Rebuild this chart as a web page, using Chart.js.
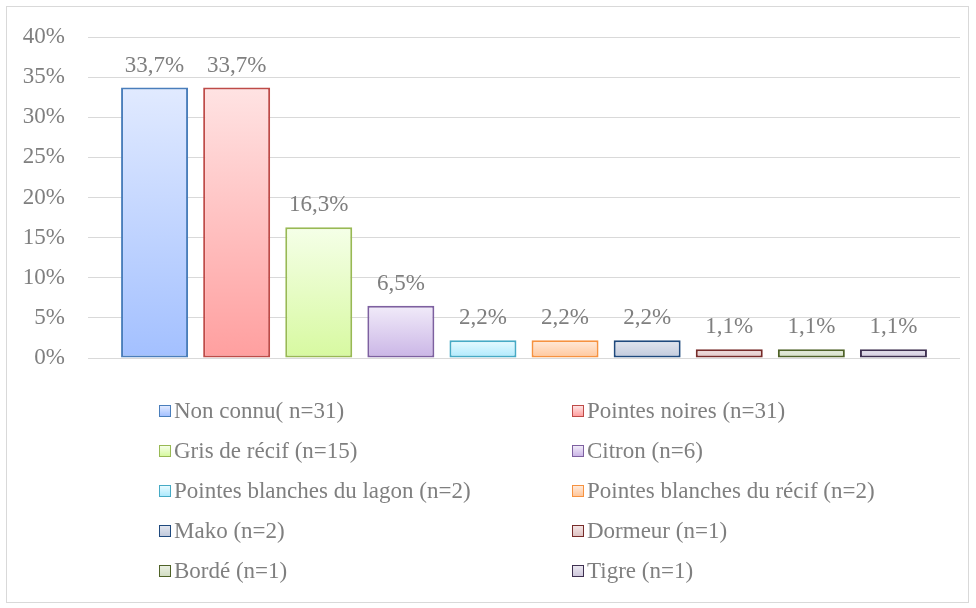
<!DOCTYPE html>
<html>
<head>
<meta charset="utf-8">
<script src="https://cdn.jsdelivr.net/npm/chart.js@4/dist/chart.umd.min.js"></script>
<style>
  body { margin: 0; background: #fff; }
  #wrap { position: relative; width: 976px; height: 608px; }
  #frame { position: absolute; left: 6px; top: 6px; width: 961px; height: 595px; border: 1px solid #d9d9d9; }
  #myChart { position: absolute; left: 0; top: 0; }
  #legend { position: absolute; left: 0; top: 0; font-size: 19px; color: #7f7f7f; }
  .item { position: absolute; display: flex; align-items: center; white-space: nowrap; }
  .box { width: 10px; height: 10px; border: 1px solid; margin-right: 3px; }
</style>
</head>
<body>
<div id="wrap">
  <div id="frame"></div>
  <canvas id="myChart" width="976" height="608"></canvas>
  <div id="legend"></div>
</div>
<script>
// Series names (one bar each)
const species = [
  'Non connu( n=31)', 'Pointes noires (n=31)', 'Gris de récif (n=15)', 'Citron (n=6)',
  'Pointes blanches du lagon (n=2)', 'Pointes blanches du récif (n=2)', 'Mako (n=2)',
  'Dormeur (n=1)', 'Bordé (n=1)', 'Tigre (n=1)'
];
// Percent of sharks
const percents = [33.7, 33.7, 16.3, 6.5, 2.2, 2.2, 2.2, 1.1, 1.1, 1.1];
// y axis ticks
const yTicks = [0, 5, 10, 15, 20, 25, 30, 35, 40];

// border, gradient top, gradient bottom
const lineColors = ['#4a7ebb', '#be4b48', '#98b954', '#7d60a0', '#46aac5', '#f69240', '#1f497d', '#772c2a', '#4f6228', '#3f3151'];
const topColors = ['#e1eaff', '#ffe3e3', '#f5ffe8', '#f1ebf9', '#e8fbff', '#ffeadb', '#e2e6ef', '#f5e4e4', '#eaf0e2', '#ebe8f1'];
const bottomColors = ['#a3c0ff', '#ff9f9f', '#d7f9a0', '#cab5e6', '#ade9fd', '#ffc69a', '#c0c9dc', '#ddc3c3', '#d2ddc3', '#cfc8dc'];

// pick the first serif face that is really installed
const probe = document.createElement('canvas').getContext('2d');
function hasFont(name) {
  const s = 'mmmmmwwwwlli,%0123';
  return ['monospace', 'sans-serif'].some(function(base) {
    probe.font = '40px ' + base;
    const w0 = probe.measureText(s).width;
    probe.font = '40px "' + name + '", ' + base;
    return probe.measureText(s).width !== w0;
  });
}
const serifName = ['Liberation Serif', 'Times New Roman', 'Tinos', 'Noto Serif', 'DejaVu Serif']
  .find(hasFont) || 'serif';
const fontFamily = '"' + serifName + '", serif';
// size so that "33,7%" is ~59px wide, as in the picture
probe.font = '100px ' + fontFamily;
const fontSize = Math.round(59 / probe.measureText('33,7%').width * 100 * 2) / 2;
document.getElementById('legend').style.fontFamily = fontFamily;
document.getElementById('legend').style.fontSize = fontSize + 'px';

function barGradient(i) {
  return function(context) {
    const chart = context.chart;
    if (!chart.chartArea || !chart.scales.y) return topColors[i];
    const y = chart.scales.y;
    const top = y.getPixelForValue(percents[i]);
    const bottom = y.getPixelForValue(0);
    const g = chart.ctx.createLinearGradient(0, top, 0, bottom);
    g.addColorStop(0, topColors[i]);
    g.addColorStop(1, bottomColors[i]);
    return g;
  };
}

const datasets = species.map(function(name, i) {
  return {
    label: name,
    data: [percents[i]],
    backgroundColor: barGradient(i),
    borderColor: lineColors[i],
    borderWidth: 2,
    borderSkipped: false,
    categoryPercentage: 0.9415,
    barPercentage: 0.816
  };
});

// value labels above the bars
const valueLabels = {
  id: 'valueLabels',
  afterDatasetsDraw(chart) {
    const ctx = chart.ctx;
    ctx.save();
    ctx.font = fontSize + 'px ' + fontFamily;
    ctx.fillStyle = '#7f7f7f';
    ctx.textAlign = 'center';
    ctx.textBaseline = 'alphabetic';
    chart.data.datasets.forEach(function(ds, i) {
      const bar = chart.getDatasetMeta(i).data[0];
      const txt = ds.data[0].toFixed(1).replace('.', ',') + '%';
      ctx.fillText(txt, bar.x, bar.y - 16);
    });
    ctx.restore();
  }
};

const ctx = document.getElementById('myChart').getContext('2d');
const myChart = new Chart(ctx, {
  type: 'bar',
  data: { labels: [''], datasets: datasets },
  options: {
    responsive: false,
    animation: false,
    layout: { padding: { top: 37, right: 16, bottom: 250, left: 0 } },
    plugins: { legend: { display: false }, tooltip: { enabled: false } },
    scales: {
      x: { display: false },
      y: {
        min: 0,
        max: 40,
        afterFit(scale) { scale.width = 88; },
        afterBuildTicks(scale) { scale.ticks = yTicks.map(v => ({ value: v })); },
        border: { display: false },
        grid: { color: '#d9d9d9', lineWidth: 1, drawTicks: false },
        ticks: {
          padding: 23,
          color: '#7f7f7f',
          font: { family: fontFamily, size: fontSize },
          callback: v => v + '%'
        }
      }
    }
  },
  plugins: [valueLabels]
});

// two-column legend
const legend = document.getElementById('legend');
species.forEach(function(name, i) {
  const el = document.createElement('div');
  el.className = 'item';
  el.style.left = (i % 2 === 0 ? 159 : 572) + 'px';
  el.style.top = (398 + Math.floor(i / 2) * 40) + 'px';
  const box = document.createElement('span');
  box.className = 'box';
  box.style.borderColor = lineColors[i];
  box.style.background = 'linear-gradient(' + topColors[i] + ',' + bottomColors[i] + ')';
  el.appendChild(box);
  el.appendChild(document.createTextNode(name));
  legend.appendChild(el);
});
</script>
</body>
</html>
